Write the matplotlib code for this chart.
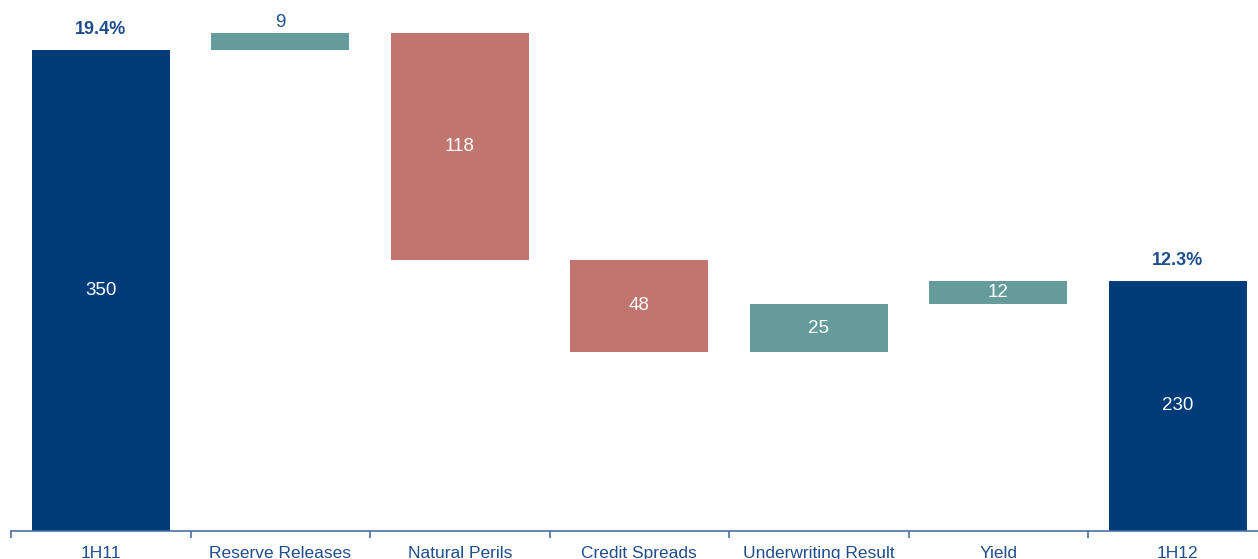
import numpy as np
import matplotlib.pyplot as plt

plt.rcParams['font.family'] = ['Liberation Sans', 'DejaVu Sans']

categories = ['1H11', 'Reserve Releases', 'Natural Perils', 'Credit Spreads',
              'Underwriting Result', 'Yield', '1H12']
changes = [350, 9, -118, -48, 25, 12, 230]
ratios = {0: '19.4%', 6: '12.3%'}

navy = '#003b7a'
teal = '#659c9b'
red = '#c0756f'
txt = '#1f4e8d'

# waterfall bottoms / heights
bottoms, heights, colors = [], [], []
run = 0
for i, v in enumerate(changes):
    if i == 0 or i == len(changes) - 1:
        bottoms.append(0)
        heights.append(v)
        colors.append(navy)
        run = v
    else:
        if v >= 0:
            bottoms.append(run)
        else:
            bottoms.append(run + v)
        heights.append(abs(v))
        colors.append(teal if v >= 0 else red)
        run += v

fig = plt.figure(figsize=(12.58, 5.59), dpi=100)
ax = fig.add_axes([11 / 1258, 28 / 559, 1247 / 1258, 531 / 559])

x = np.arange(len(categories))
ax.bar(x, heights, bottom=bottoms, width=0.77, color=colors)

ymin = 100
for i in range(len(categories)):
    b, h = bottoms[i], heights[i]
    lo = max(b, ymin)
    if i == 1:
        ax.text(x[i], b + h + 1, str(changes[i]), ha='center', va='bottom',
                color=txt, fontsize=13.5)
    else:
        ax.text(x[i], (lo + b + h) / 2, str(abs(changes[i])), ha='center',
                va='center', color='white', fontsize=13.5)
    if i in ratios:
        ax.text(x[i], b + h + 6, ratios[i], ha='center', va='bottom',
                color=txt, fontsize=13, fontweight='bold')

ax.set_yticks([])
ax.set_xticks(x)
ax.set_xticklabels(categories, color=txt, fontsize=12.5)
ax.tick_params(axis='x', which='major', length=0, pad=11)
ax.set_xticks(np.arange(-0.5, 7, 1), minor=True)
ax.tick_params(axis='x', which='minor', length=5, width=1.2, color='#4a6fa3')

ax.set_xlim(-0.5, -0.5 + 1247 / 179.5)
ax.set_ylim(ymin, ymin + 531 / 1.924)

for s in ['top', 'right', 'left']:
    ax.spines[s].set_visible(False)
ax.spines['bottom'].set_color('#4a6fa3')
ax.spines['bottom'].set_linewidth(1.2)

fig.savefig('out.png', dpi=100)
